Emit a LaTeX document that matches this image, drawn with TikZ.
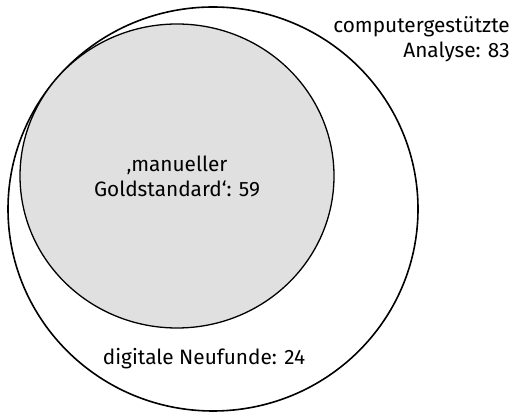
\documentclass[tikz,border=0pt]{standalone}
\usepackage{fontspec}
\setmainfont{Fira Sans}
\tikzset{
	menge/.style={line width=1.3pt},
	beschriftung/.style={font=\fontsize{20.8}{25.5}\selectfont, inner sep=0pt}
}
\begin{document}
\begin{tikzpicture}[x=1pt,y=1pt]
		\useasboundingbox (0,0) rectangle (514,412);
		\draw[menge, line width=1.6pt] (213,203) ellipse (205 and 202);
		\filldraw[menge, fill=black!12] (177,236) ellipse (157 and 152);
		\node[beschriftung, align=right, anchor=base east] (comp) at (510,354) {computergestützte\\Analyse: 83};
		\node[beschriftung, align=center, anchor=base] (gold) at (177,215) {‚manueller\\Goldstandard‘: 59};
		\node[beschriftung, anchor=base] (neu) at (204,47) {digitale Neufunde: 24};
	\end{tikzpicture}
\end{document}
